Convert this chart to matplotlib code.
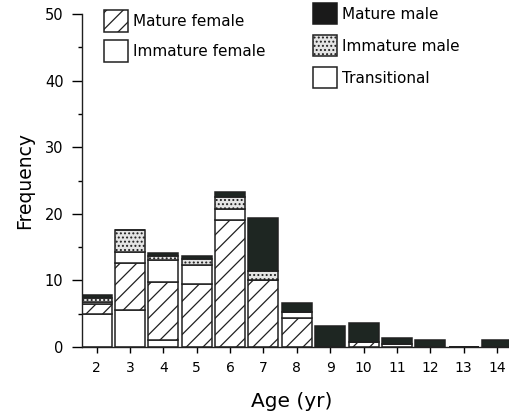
import matplotlib
matplotlib.use("Agg")
import matplotlib.pyplot as plt
import numpy as np
from matplotlib.patches import Patch

# Age classes and frequency of each reproductive category
ages = [2, 3, 4, 5, 6, 7, 8, 9, 10, 11, 12, 13, 14]
immature_female = [4.9, 5.5, 1.1, 0, 0, 0, 0, 0, 0, 0, 0, 0, 0]
mature_female = [1.5, 7.1, 8.7, 9.5, 19.0, 10.1, 4.3, 0, 0.8, 0, 0, 0, 0]
transitional = [0.3, 1.7, 3.2, 2.8, 1.7, 0, 0.9, 0, 0, 0.4, 0, 0, 0]
immature_male = [0.7, 3.2, 0.7, 0.9, 1.8, 1.3, 0, 0, 0, 0, 0, 0, 0]
mature_male = [0.4, 0, 0.4, 0.4, 0.7, 7.9, 1.35, 3.2, 2.85, 1.0, 1.0, 0, 1.0]

y_ticks = [0, 10, 20, 30, 40, 50]

plt.rcParams["font.family"] = ["DejaVu Sans"]
plt.rcParams["hatch.linewidth"] = 0.9

fig = plt.figure(figsize=(5.10, 4.19), dpi=100)
ax = fig.add_axes([0.160, 0.1718, 0.840, 0.7948])

dark = "#1e2622"
styles = [
    dict(facecolor="white", hatch=None),          # immature female
    dict(facecolor="white", hatch="//"),          # mature female
    dict(facecolor="white", hatch=None),          # transitional
    dict(facecolor="#e4e4e4", hatch="...."),      # immature male
    dict(facecolor=dark, hatch=None),             # mature male
]
series = [immature_female, mature_female, transitional, immature_male, mature_male]

bottom = np.zeros(len(ages))
for vals, st in zip(series, styles):
    v = np.array(vals, dtype=float)
    ax.bar(ages, v, width=0.9, bottom=bottom, color=st["facecolor"],
           edgecolor="#202020", linewidth=1.1, hatch=st["hatch"], zorder=2)
    bottom += v

ax.set_xlim(1.55, 14.39)
ax.set_ylim(0, 50)
ax.set_xticks(ages)
ax.set_yticks(y_ticks)
ax.set_yticks(np.arange(5, 50, 10), minor=True)
ax.spines["top"].set_visible(False)
ax.spines["right"].set_visible(False)
for s in ("left", "bottom"):
    ax.spines[s].set_linewidth(1.0)
    ax.spines[s].set_color("#202020")
ax.tick_params(axis="y", which="major", length=7, width=1.0, labelsize=10.5, pad=6)
ax.tick_params(axis="y", which="minor", length=3, width=1.0)
ax.tick_params(axis="x", which="major", length=4, width=1.0, labelsize=10, pad=6)

ax.set_ylabel("Frequency", fontsize=13.5, labelpad=8)
ax.set_xlabel("Age (yr)", fontsize=14.5, labelpad=9)
ax.xaxis.set_label_coords(0.49, -0.135)

h_mf = Patch(facecolor="white", edgecolor="#202020", hatch="//", linewidth=1.1)
h_if = Patch(facecolor="white", edgecolor="#202020", linewidth=1.1)
h_mm = Patch(facecolor="#1a1a1a", edgecolor="#1a1a1a", linewidth=1.1)
h_im = Patch(facecolor="#e4e4e4", edgecolor="#202020", hatch="....", linewidth=1.1)
h_tr = Patch(facecolor="white", edgecolor="#202020", linewidth=1.1)

leg1 = fig.legend([h_mf, h_if], ["Mature female", "Immature female"],
                  loc="upper left", bbox_to_anchor=(104 / 510, 1 - 10 / 419),
                  frameon=False, fontsize=11, borderpad=0, borderaxespad=0,
                  handlelength=1.57, handleheight=1.83, handletextpad=0.35,
                  labelspacing=0.52)
leg2 = fig.legend([h_mm, h_im, h_tr], ["Mature male", "Immature male", "Transitional"],
                  loc="upper left", bbox_to_anchor=(313 / 510, 1 - 3 / 419),
                  frameon=False, fontsize=11, borderpad=0, borderaxespad=0,
                  handlelength=1.57, handleheight=1.75, handletextpad=0.35,
                  labelspacing=0.72)

fig.savefig("out.png", dpi=100)
